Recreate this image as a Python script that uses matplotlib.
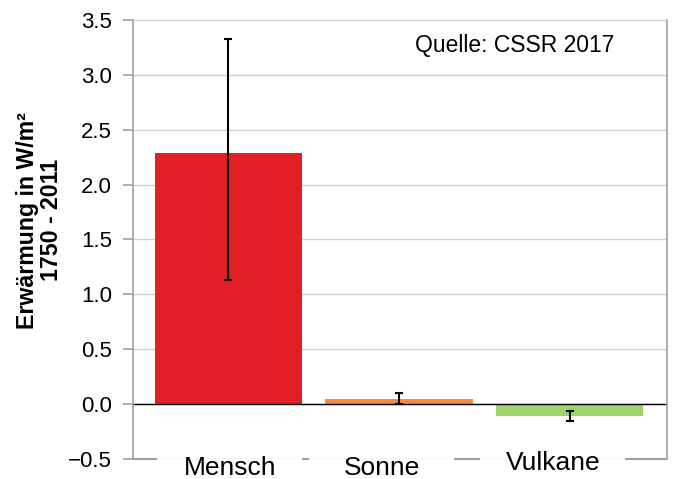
import matplotlib.pyplot as plt
import numpy as np

plt.rcParams['font.family'] = ['Liberation Sans', 'DejaVu Sans']

categories = ['Mensch', 'Sonne', 'Vulkane']
values = [2.29, 0.05, -0.11]
err_low = [1.13, 0.00, -0.155]
err_high = [3.33, 0.10, -0.065]
colors = ['#e31e24', '#f68b3c', '#9fd36b']

# label placement (data x offsets, vertical offsets in points)
label_dx = [0.01, -0.10, -0.10]
label_dy = [2, 2, 6]
gap_half = 0.424

fig = plt.figure(figsize=(6.75, 4.79), dpi=100)
ax = fig.add_axes([0.197, 0.042, 0.791, 0.916])

x = np.arange(len(categories))
ax.bar(x, values, width=0.86, color=colors, zorder=2)

vals = np.array(values)
yerr = [vals - np.array(err_low), np.array(err_high) - vals]
ax.errorbar(x, values, yerr=yerr, fmt='none', ecolor='black',
            elinewidth=1.5, capsize=3, capthick=1.5, zorder=3)

ax.axhline(0, color='black', linewidth=1, zorder=2.5)

xmin, xmax = -0.556, 2.567
ax.set_xlim(xmin, xmax)
ax.set_ylim(-0.5, 3.5)
ax.set_yticks(np.arange(-0.5, 3.51, 0.5))
ax.set_yticklabels(['\u22120.5'] + [f'{v:.1f}' for v in np.arange(0, 3.51, 0.5)])
ax.yaxis.grid(True, color='#d0d0d0', linewidth=1, zorder=0)
ax.set_axisbelow(True)

for side in ['left', 'right']:
    ax.spines[side].set_color('#a0a0a0')
    ax.spines[side].set_linewidth(1.2)
ax.spines['top'].set_visible(False)
ax.spines['bottom'].set_visible(False)

# bottom axis line, broken where the category labels sit
lx = x + np.array(label_dx)
edges = [xmin]
for c in lx:
    edges += [c - gap_half, c + gap_half]
edges.append(xmax)
for a, b in zip(edges[0::2], edges[1::2]):
    ax.plot([a, b], [-0.5, -0.5], color='#a0a0a0', linewidth=1.5,
            clip_on=False, zorder=4, solid_capstyle='butt')

ax.tick_params(axis='y', colors='#a0a0a0', length=7, width=1.2,
               labelcolor='black', labelsize=16, pad=8)
ax.set_xticks([])
for xi, dy, name in zip(lx, label_dy, categories):
    ax.annotate(name, xy=(xi, 0), xycoords=('data', 'axes fraction'),
                xytext=(0, dy), textcoords='offset points',
                ha='center', va='top', fontsize=19, annotation_clip=False)

ax.set_ylabel('Erwärmung in W/m²\n1750 - 2011', fontsize=16.7,
              fontweight='bold', linespacing=1.05)
ax.yaxis.set_label_coords(-0.131, 0.544)

ax.text(0.715, 0.943, 'Quelle: CSSR 2017', transform=ax.transAxes,
        ha='center', va='center', fontsize=16.5)

fig.savefig('out.png', dpi=100)
